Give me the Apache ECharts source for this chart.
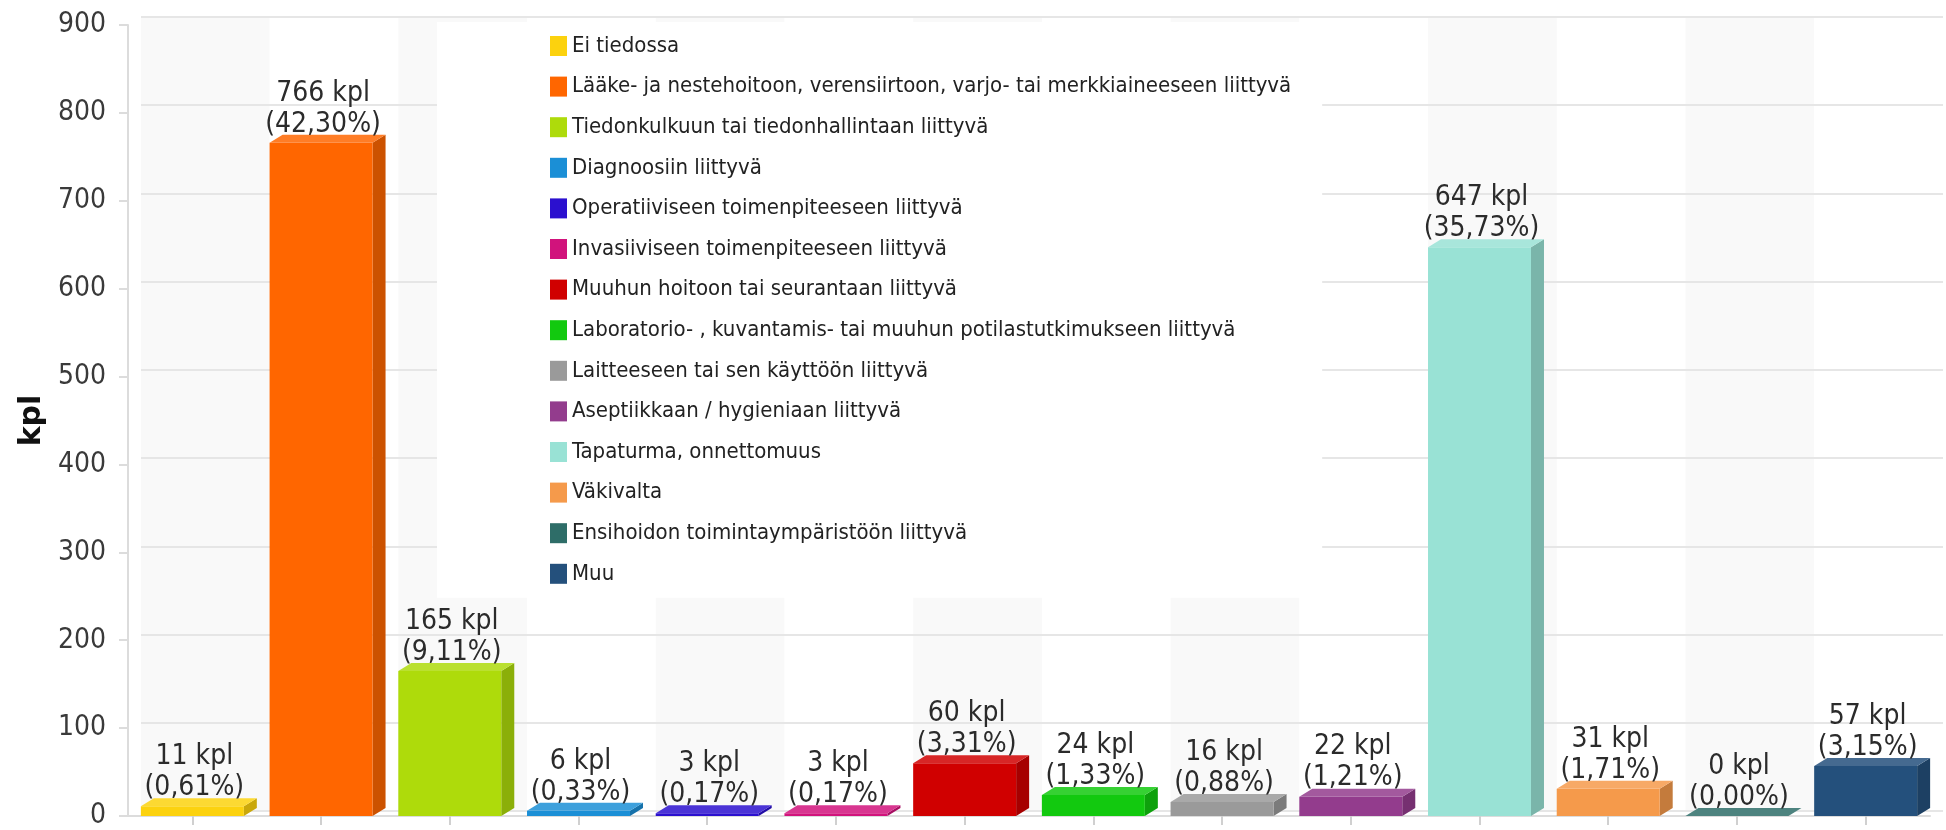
<!DOCTYPE html>
<html>
<head>
<meta charset="utf-8">
<title>kpl</title>
<script src="https://cdn.jsdelivr.net/npm/echarts@6/dist/echarts.min.js"></script>
<style>
  html, body { margin: 0; padding: 0; background: #fff; }
  #chart { width: 1946px; height: 830px; }
</style>
</head>
<body>
<div id="chart"></div>
<script>
// luokat ja määrät (kpl)
var categories = [
  "Ei tiedossa",
  "Lääke- ja nestehoitoon, verensiirtoon, varjo- tai merkkiaineeseen liittyvä",
  "Tiedonkulkuun tai tiedonhallintaan liittyvä",
  "Diagnoosiin liittyvä",
  "Operatiiviseen toimenpiteeseen liittyvä",
  "Invasiiviseen toimenpiteeseen liittyvä",
  "Muuhun hoitoon tai seurantaan liittyvä",
  "Laboratorio- , kuvantamis- tai muuhun potilastutkimukseen liittyvä",
  "Laitteeseen tai sen käyttöön liittyvä",
  "Aseptiikkaan / hygieniaan liittyvä",
  "Tapaturma, onnettomuus",
  "Väkivalta",
  "Ensihoidon toimintaympäristöön liittyvä",
  "Muu"
];
var counts = [11, 766, 165, 6, 3, 3, 60, 24, 16, 22, 647, 31, 0, 57];
var colors = [
  "#fcd20e", "#ff6600", "#aedb0b", "#1b8fd6", "#2b10cf", "#d1137c", "#d00000",
  "#12c90f", "#9a9a9a", "#933c8d", "#99e2d5", "#f59a4b", "#2e6d68", "#24507c"
];
var yMin = 0;
var yMax = 900;
var yStep = 100;

var FONT = "'DejaVu Sans Condensed', 'Liberation Sans', sans-serif";
var DX = 13; // 3d syvyys
var DY = 8;

var total = counts.reduce(function (a, b) { return a + b; }, 0);

function pct(v) {
  return (v / total * 100).toFixed(2).replace(".", ",") + "%";
}

function mix(hex, f, toWhite) {
  var n = parseInt(hex.slice(1), 16);
  var rgb = [(n >> 16) & 255, (n >> 8) & 255, n & 255].map(function (c) {
    return Math.round(toWhite ? c + (255 - c) * f : c * f);
  });
  return "rgb(" + rgb.join(",") + ")";
}

function renderBox(params, api) {
  var val = api.value(1);
  var base = api.coord([api.value(0), 0]);
  var top = api.coord([api.value(0), val]);
  var w = api.size([1, 0])[0] * 0.8;
  var x0 = base[0] - w / 2, x1 = base[0] + w / 2;
  var y0 = base[1], y1 = top[1];
  var c = api.visual("color");
  return {
    type: "group",
    children: [
      {
        type: "polygon",
        shape: { points: [[x1, y0], [x1 + DX, y0 - DY], [x1 + DX, y1 - DY], [x1, y1]] },
        style: { fill: mix(c, 0.8) }
      },
      {
        type: "rect",
        shape: { x: x0, y: y1, width: w, height: y0 - y1 },
        style: { fill: c }
      },
      {
        type: "polygon",
        shape: { points: [[x0, y1], [x0 + DX, y1 - DY], [x1 + DX, y1 - DY], [x1, y1]] },
        style: { fill: mix(c, 0.15, true) }
      },
      {
        type: "text",
        style: {
          text: val + " kpl\n(" + pct(val) + ")",
          x: base[0] + 2,
          y: y1 - 3,
          align: "center",
          verticalAlign: "bottom",
          fontSize: 28,
          lineHeight: 31,
          fontFamily: FONT,
          fill: "#2b2b2b"
        }
      }
    ]
  };
}

var series = categories.map(function (name, i) {
  return {
    name: name,
    type: "custom",
    xAxisIndex: 0,
    yAxisIndex: 0,
    itemStyle: { color: colors[i] },
    renderItem: renderBox,
    data: [[i, counts[i]]],
    z: 3
  };
});

var myChart = echarts.init(document.getElementById("chart"));

var option = {
  animation: false,
  backgroundColor: "#fff",
  grid: [
    { left: 128, right: 16, top: 25, bottom: 11 },
    // takaseinä
    { left: 128 + DX, right: 16 - DX, top: 25 - DY, bottom: 11 + DY }
  ],
  legend: {
    orient: "vertical",
    left: 437,
    top: 22,
    padding: [13, 31, 13, 113],
    backgroundColor: "#fff",
    icon: "rect",
    itemWidth: 17,
    itemHeight: 20,
    itemGap: 18.6,
    textStyle: { fontSize: 22, lineHeight: 22, fontFamily: FONT, color: "#222" },
    data: categories
  },
  xAxis: [
    {
      type: "category",
      gridIndex: 0,
      data: categories,
      z: 2,
      axisLine: { show: true, lineStyle: { color: "#dcdcdc", width: 2 } },
      axisTick: { show: true, interval: 0, alignWithLabel: true, length: 9, lineStyle: { color: "#d0d0d0", width: 2 } },
      axisLabel: { show: false, interval: 0 },
      splitLine: { show: false }
    },
    {
      type: "category",
      gridIndex: 1,
      data: categories,
      z: 0,
      axisLine: { show: false },
      axisTick: { show: false, interval: 0 },
      axisLabel: { show: false, interval: 0 },
      splitLine: { show: false },
      splitArea: { show: true, interval: 0, areaStyle: { color: ["#f9f9f9", "#ffffff"] } }
    }
  ],
  yAxis: [
    {
      type: "value",
      gridIndex: 0,
      min: yMin,
      max: yMax,
      interval: yStep,
      z: 2,
      name: "kpl",
      nameLocation: "middle",
      nameGap: 80,
      nameTextStyle: { fontSize: 30, fontWeight: "bold", fontFamily: "'DejaVu Sans', sans-serif", color: "#111" },
      axisLine: { show: true, lineStyle: { color: "#dcdcdc", width: 2 } },
      axisTick: { show: true, length: 9, lineStyle: { color: "#dcdcdc", width: 2 } },
      axisLabel: { fontSize: 28, fontFamily: FONT, color: "#3a3a3a", margin: 22 },
      splitLine: { show: false }
    },
    {
      type: "value",
      gridIndex: 1,
      min: yMin,
      max: yMax,
      interval: yStep,
      z: 1,
      axisLine: { show: false },
      axisTick: { show: false },
      axisLabel: { show: false },
      splitLine: { show: true, lineStyle: { color: "#e6e6e6", width: 2 } }
    }
  ],
  series: series
};

option && myChart.setOption(option);

window.addEventListener("resize", function () {
  myChart.resize();
});
</script>
</body>
</html>
